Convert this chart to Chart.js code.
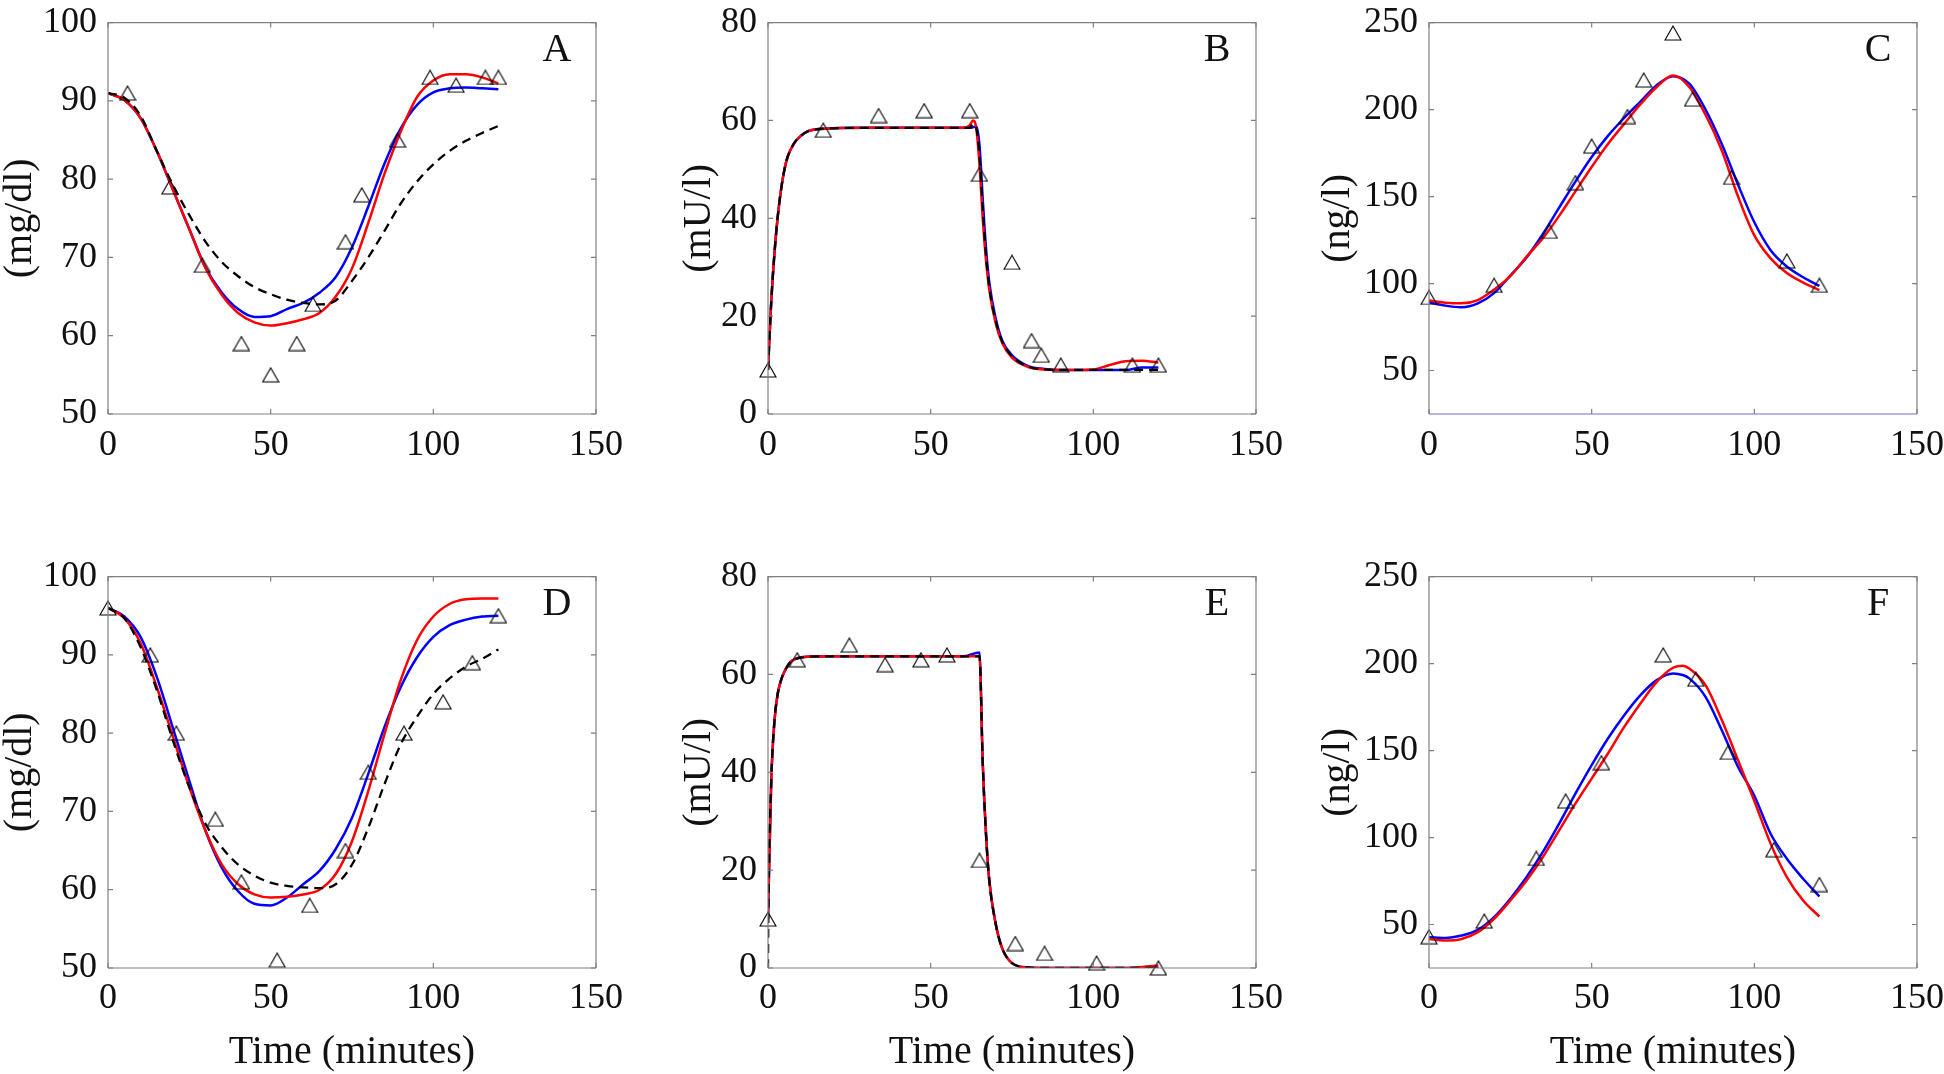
<!DOCTYPE html>
<html>
<head>
<meta charset="utf-8">
<script src="https://cdn.jsdelivr.net/npm/chart.js@4.4.0/dist/chart.umd.min.js"></script>
<style>
  html, body { margin: 0; padding: 0; background: #fff; }
  body { position: relative; width: 1944px; height: 1074px; overflow: hidden; font-family: "Liberation Serif", "DejaVu Serif", serif; }
  canvas { position: absolute; }
</style>
</head>
<body>
<canvas id="pA"></canvas>
<canvas id="pB"></canvas>
<canvas id="pC"></canvas>
<canvas id="pD"></canvas>
<canvas id="pE"></canvas>
<canvas id="pF"></canvas>
<script>
// ── Data ───────────────────────────────────────────────────────────────────
const xTicks = [0, 50, 100, 150];
const glucoseTicks = [50, 60, 70, 80, 90, 100];
const insulinTicks = [0, 20, 40, 60, 80];
const hormoneTicks = [50, 100, 150, 200, 250];

const curveTime = [0, 5, 10, 15, 20, 25, 30, 35, 40, 45, 50, 55, 60, 65, 70, 75, 80, 85, 90, 95, 100, 105, 110, 115, 120];

// A: glucose, subject 1
const obsTimeA = [6, 19, 29, 41, 50, 58, 63, 73, 78, 89, 99, 107, 116, 120];
const obsA     = [91, 79, 69, 59, 55, 59, 64, 72, 78, 85, 93, 92, 93, 93];
const redA   = [91, 90.1, 87.8, 83.6, 78.6, 73.6, 68.6, 65.2, 62.9, 61.7, 61.3, 61.6, 62.1, 62.9, 65, 68.6, 74.4, 80.7, 86.1, 90.5, 92.6, 93.4, 93.4, 93.0, 92.2];
const blueA  = [91, 90.1, 87.8, 83.6, 78.6, 73.6, 68.7, 65.5, 63.4, 62.4, 62.5, 63.4, 64.2, 65.5, 67.5, 71.3, 76.5, 82, 86.5, 89.5, 91.1, 91.6, 91.7, 91.6, 91.5];
const blackA = [91, 90.4, 88.1, 83.6, 79.2, 75.4, 72.0, 69.4, 67.6, 66.2, 65.3, 64.6, 64.2, 64.0, 64.5, 67.0, 70.0, 73.4, 76.9, 79.7, 81.9, 83.6, 84.9, 85.9, 86.8];

// B: insulin, subject 1
const obsTimeB = [0, 17, 34, 48, 62, 65, 75, 81, 84, 90, 112, 120];
const obsB     = [9, 58, 61, 62, 62, 49, 31, 15, 12, 10, 10, 10];
const timeB  = [0, 1, 2, 3, 4, 5, 6, 8, 10, 12, 15, 20, 30, 40, 50, 60, 62, 63, 64, 65, 66, 67, 68, 70, 72, 75, 80, 85, 90, 95, 100, 105, 110, 115, 120];
const redB   = [9, 23, 33, 40.4, 45.8, 49.8, 52.5, 55.3, 56.8, 57.7, 58.2, 58.4, 58.5, 58.5, 58.5, 58.5, 59, 60, 58.5, 51, 40, 31.5, 25.5, 18.5, 14.5, 11.5, 9.6, 9.1, 9.0, 9.0, 9.1, 10, 10.8, 10.9, 10.5];
const blueB  = [9, 23, 33, 40.4, 45.8, 49.8, 52.5, 55.3, 56.8, 57.7, 58.2, 58.4, 58.5, 58.5, 58.5, 58.5, 58.5, 58.6, 58.8, 55, 44, 34, 27, 19.5, 15, 12, 9.8, 9.2, 9.0, 9.0, 9.0, 9.0, 9.0, 9.5, 9.5];
const blackB = [9, 23, 33, 40.4, 45.8, 49.8, 52.5, 55.3, 56.8, 57.7, 58.2, 58.4, 58.5, 58.5, 58.5, 58.5, 58.5, 59.3, 58.5, 53, 42, 32.5, 26, 19, 14.8, 11.8, 9.7, 9.1, 9.0, 9.0, 9.0, 9.0, 9.0, 9.0, 9.0];

// C: hormone, subject 1
const obsTimeC = [0, 20, 37, 45, 50, 61, 66, 75, 81, 93, 110, 120];
const obsC     = [92, 99, 130, 158, 179, 196, 217, 244, 206, 161, 113, 99];
const redC  = [90.2, 89, 88.6, 90.5, 96.5, 104.2, 115.5, 126, 138.9, 153, 167, 180.2, 191.8, 203.1, 213, 219.6, 213, 197, 176.5, 150, 127.7, 114.5, 106, 100.5, 96.2];
const blueC = [89.2, 87.3, 86.4, 88.6, 94.5, 104.6, 115, 128.5, 143.6, 158.6, 172.7, 184.9, 195.2, 204.6, 214, 219.2, 214.9, 200, 180.2, 156.8, 135.2, 119.2, 109.8, 103.6, 98.6];

// D: glucose, subject 2
const obsTimeD = [0, 13, 21, 33, 41, 52, 62, 73, 80, 91, 103, 112, 120];
const obsD     = [96, 90, 80, 69, 61, 51, 58, 65, 75, 80, 84, 89, 95];
const redD   = [96, 94.7, 91.5, 85.9, 79.5, 73.1, 67.5, 63.2, 60.7, 59.4, 59, 59.1, 59.4, 60, 62, 66.2, 72.6, 79.9, 86.8, 91.9, 94.9, 96.5, 97.1, 97.2, 97.2];
const blueD  = [96, 94.9, 92.3, 87.2, 80.6, 73.9, 67.5, 62.8, 59.8, 58.2, 58, 59, 60.7, 62.4, 65.2, 69.2, 74.8, 80.8, 85.9, 89.7, 92.3, 93.8, 94.5, 94.9, 95];
const blackD = [96, 94.7, 91, 85.5, 79, 73.1, 68.4, 65.4, 63.2, 61.8, 60.9, 60.5, 60.3, 60.2, 60.7, 63.2, 67.9, 73.5, 78.6, 82.1, 85, 87, 88.5, 89.5, 90.7];

// E: insulin, subject 2
const obsTimeE = [0, 9, 25, 36, 47, 55, 65, 76, 85, 101, 120];
const obsE     = [10, 63, 66, 62, 63, 64, 22, 5, 3, 1, 0];
const timeE  = [0, 1, 2, 3, 4, 5, 7, 9, 12, 20, 30, 40, 50, 60, 65, 66, 67, 68, 70, 72, 75, 80, 85, 90, 100, 110, 115, 120];
const redE   = [10, 38.3, 50.6, 56.1, 58.8, 60.5, 62.6, 63.3, 63.6, 63.7, 63.7, 63.7, 63.7, 63.7, 63.7, 42, 27.5, 18, 9, 4, 1, 0.1, 0, 0, 0, 0, 0.2, 0.5];
const blueE  = [10, 38.3, 50.6, 56.1, 58.8, 60.5, 62.6, 63.3, 63.6, 63.7, 63.7, 63.7, 63.7, 63.7, 64.5, 42, 27.5, 18, 9, 4, 1, 0.1, 0, 0, 0, 0, 0, 0];
const blackTimeE = [0, 0.1, 1, 2, 3, 4, 5, 7, 9, 12, 20, 30, 40, 50, 60, 65, 66, 67, 68, 70, 72, 75, 80, 85, 90, 100, 110, 115, 120];
const blackE = [0, 10, 38.3, 50.6, 56.1, 58.8, 60.5, 62.6, 63.3, 63.6, 63.7, 63.7, 63.7, 63.7, 63.7, 63.7, 42, 27.5, 18, 9, 4, 1, 0.1, 0, 0, 0, 0, 0, 0];

// F: hormone, subject 2
const obsTimeF = [0, 17, 33, 42, 53, 72, 82, 92, 106, 120];
const obsF     = [43, 52, 88, 121, 143, 205, 191, 149, 93, 73];
const timeF = [0, 5, 10, 15, 20, 25, 30, 35, 40, 45, 50, 55, 60, 65, 70, 75, 78, 80, 85, 90, 95, 100, 105, 110, 115, 120];
const redF  = [41.7, 40.8, 41.7, 45.6, 53.3, 63.8, 75.3, 88.8, 104.1, 119.5, 133.9, 148.3, 163.6, 177.1, 189.5, 197.6, 198.8, 197.2, 187.6, 167.5, 144.4, 121, 96.5, 77.3, 63.8, 54.6];
const blueF = [42.7, 42.3, 43.7, 46.9, 54.2, 64.8, 77.3, 91.7, 108, 125.2, 141.6, 156.9, 170.3, 181.9, 190.5, 194.3, 193.4, 191.5, 180.9, 161.7, 140.6, 124, 102.2, 87.8, 76.3, 66.1];

// ── Helpers ────────────────────────────────────────────────────────────────
const FONT = "'Liberation Serif', 'DejaVu Serif', serif";
const TEXT = '#111';

const pts = (xs, ys) => xs.map((x, i) => ({ x, y: ys[i] }));

// open triangle centred on its bounding box (like a MATLAB '^' marker)
function triangleMarker() {
  const c = document.createElement('canvas');
  c.width = 18; c.height = 16;
  const g = c.getContext('2d');
  g.strokeStyle = '#000';
  g.lineWidth = 1.1;
  g.beginPath();
  g.moveTo(9, 1); g.lineTo(17, 15); g.lineTo(1, 15); g.closePath();
  g.stroke();
  return c;
}
const TRI = triangleMarker();

function obsSet(t, v) {
  return { data: pts(t, v), showLine: false, pointStyle: TRI, pointRadius: 8,
           borderColor: '#000', backgroundColor: 'rgba(0,0,0,0)', borderWidth: 1, clip: false };
}
function curve(t, v, color, dashed) {
  return { data: pts(t, v), borderColor: color, borderWidth: dashed ? 2.3 : 2.5,
           borderDash: dashed ? [9, 6] : [], pointRadius: 0,
           cubicInterpolationMode: 'monotone', fill: false };
}

// frame, inward ticks and panel letter
const framePlugin = {
  id: 'frame',
  afterDraw(chart, args, opts) {
    const { ctx, chartArea: a, scales: { x, y } } = chart;
    ctx.save();
    ctx.strokeStyle = '#808080';
    ctx.lineWidth = 1.2;
    ctx.beginPath();
    x.ticks.forEach(t => {
      const px = x.getPixelForValue(t.value);
      ctx.moveTo(px, a.bottom); ctx.lineTo(px, a.bottom - 5);
      ctx.moveTo(px, a.top);    ctx.lineTo(px, a.top + 5);
    });
    y.ticks.forEach(t => {
      const py = y.getPixelForValue(t.value);
      ctx.moveTo(a.left, py);  ctx.lineTo(a.left + 5, py);
      ctx.moveTo(a.right, py); ctx.lineTo(a.right - 5, py);
    });
    ctx.stroke();
    ctx.beginPath();
    ctx.moveTo(a.left, a.bottom); ctx.lineTo(a.left, a.top);
    ctx.lineTo(a.right, a.top); ctx.lineTo(a.right, a.bottom);
    ctx.stroke();
    ctx.strokeStyle = opts.bottomColor || '#808080';
    ctx.beginPath();
    ctx.moveTo(a.left, a.bottom); ctx.lineTo(a.right, a.bottom);
    ctx.stroke();

    ctx.fillStyle = TEXT;
    ctx.font = '40px ' + FONT;
    ctx.textAlign = 'center';
    ctx.textBaseline = 'middle';
    ctx.fillText(opts.letter, a.right - 39, a.top + 28);
    ctx.restore();
  }
};

function makePanel(p) {
  const cv = document.getElementById(p.id);
  const plotW = 488, plotH = 398, padTop = 26, padRight = 40;
  cv.width = p.yW + plotW + padRight;
  cv.height = padTop + plotH + p.xH;
  cv.style.left = (p.plotLeft - p.yW) + 'px';
  cv.style.top = (p.plotTop - padTop) + 'px';

  const datasets = [obsSet(p.obsT, p.obs)];
  if (p.black) datasets.push(curve(p.blackT || curveTime, p.black, '#000', true));
  datasets.push(curve(p.curveT || curveTime, p.red, '#ff0000', false));
  datasets.push(curve(p.curveT || curveTime, p.blue, '#0000ff', false));

  new Chart(cv, {
    type: 'line',
    data: { datasets },
    plugins: [framePlugin],
    options: {
      responsive: false,
      animation: false,
      devicePixelRatio: 1,
      events: [],
      layout: { padding: { top: padTop, right: padRight, bottom: 0, left: 0 } },
      plugins: {
        legend: { display: false },
        tooltip: { enabled: false },
        frame: { letter: p.letter, bottomColor: p.bottomColor }
      },
      scales: {
        x: {
          type: 'linear', min: 0, max: 150,
          afterBuildTicks: s => { s.ticks = xTicks.map(v => ({ value: v })); },
          afterFit: s => { s.height = p.xH; },
          grid: { display: false, drawTicks: false },
          border: { display: false },
          ticks: { autoSkip: false, maxRotation: 0, padding: p.xPad, color: TEXT, font: { family: FONT, size: 36 } },
          title: { display: !!p.xTitle, text: p.xTitle || '', color: TEXT, padding: 0,
                   font: { family: FONT, size: 40, lineHeight: 1 } }
        },
        y: {
          type: 'linear', min: p.yMin, max: p.yMax,
          afterBuildTicks: s => { s.ticks = p.yTicks.map(v => ({ value: v })); },
          afterFit: s => { s.width = p.yW; },
          grid: { display: false, drawTicks: false },
          border: { display: false },
          ticks: { autoSkip: false, padding: 11, color: TEXT, font: { family: FONT, size: 36 } },
          title: { display: true, text: p.ylabel, color: TEXT, padding: 0,
                   font: { family: FONT, size: 40, lineHeight: 1 } }
        }
      }
    }
  });
}

// ── Panels ─────────────────────────────────────────────────────────────────
const row1 = { plotTop: 16, xH: 60, xPad: 10 };
const row2 = { plotTop: 570, xH: 104, xPad: 9, xTitle: 'Time (minutes)' };

function drawAll() {
  makePanel({ ...row1, id: 'pA', letter: 'A', ylabel: '(mg/dl)', plotLeft: 108, yW: 108,
    yMin: 50, yMax: 100, yTicks: glucoseTicks,
    obsT: obsTimeA, obs: obsA, red: redA, blue: blueA, black: blackA });
  makePanel({ ...row1, id: 'pB', letter: 'B', ylabel: '(mU/l)', plotLeft: 768, yW: 89,
    yMin: 0, yMax: 80, yTicks: insulinTicks,
    obsT: obsTimeB, obs: obsB, curveT: timeB, blackT: timeB, red: redB, blue: blueB, black: blackB });
  makePanel({ ...row1, id: 'pC', letter: 'C', ylabel: '(ng/l)', plotLeft: 1429, yW: 111,
    yMin: 25, yMax: 250, yTicks: hormoneTicks, bottomColor: '#6a72c8',
    obsT: obsTimeC, obs: obsC, red: redC, blue: blueC });

  makePanel({ ...row2, id: 'pD', letter: 'D', ylabel: '(mg/dl)', plotLeft: 108, yW: 108,
    yMin: 50, yMax: 100, yTicks: glucoseTicks,
    obsT: obsTimeD, obs: obsD, red: redD, blue: blueD, black: blackD });
  makePanel({ ...row2, id: 'pE', letter: 'E', ylabel: '(mU/l)', plotLeft: 768, yW: 89,
    yMin: 0, yMax: 80, yTicks: insulinTicks,
    obsT: obsTimeE, obs: obsE, curveT: timeE, blackT: blackTimeE, red: redE, blue: blueE, black: blackE });
  makePanel({ ...row2, id: 'pF', letter: 'F', ylabel: '(ng/l)', plotLeft: 1429, yW: 111,
    yMin: 25, yMax: 250, yTicks: hormoneTicks,
    obsT: obsTimeF, obs: obsF, curveT: timeF, red: redF, blue: blueF });
}

// make sure the serif face is ready before the canvases paint text
Promise.all([
  document.fonts.load("36px 'Liberation Serif'"),
  document.fonts.load("36px 'DejaVu Serif'")
]).catch(() => {}).then(drawAll);
</script>
</body>
</html>
